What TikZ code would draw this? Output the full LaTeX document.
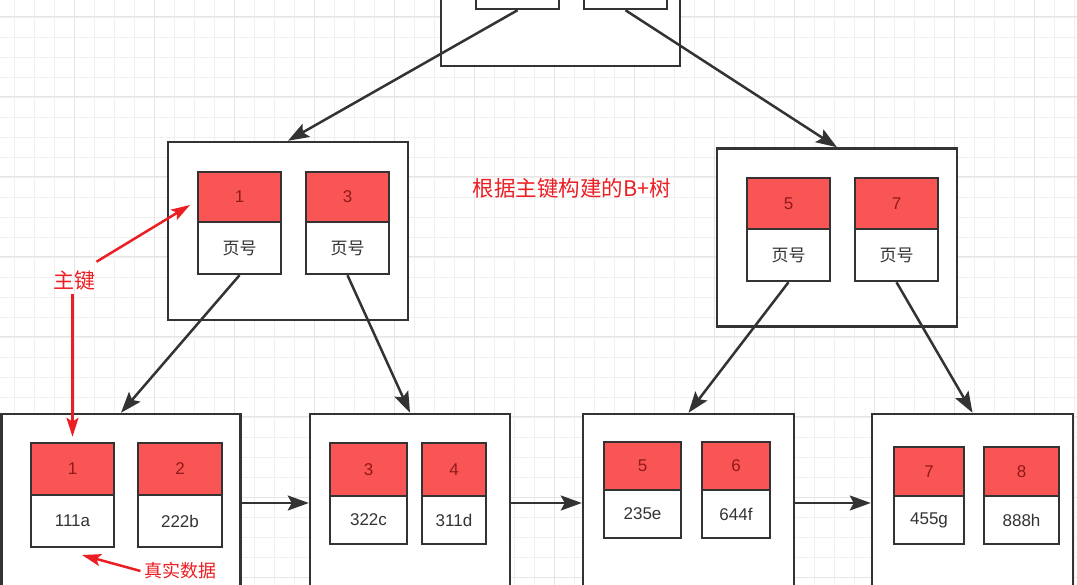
\documentclass[tikz,border=0pt]{standalone}
\usepackage{fontspec}
\setmainfont{Liberation Sans}
\newfontfamily\cjk{Noto Sans CJK SC}
\usetikzlibrary{arrows.meta, calc}
\definecolor{keyred}{RGB}{250,85,85}
\definecolor{keytext}{RGB}{145,25,25}
\definecolor{notered}{RGB}{235,30,35}
\definecolor{edge}{RGB}{51,51,51}
\definecolor{gridminor}{RGB}{240,240,240}
\definecolor{gridmajor}{RGB}{229,229,229}
\tikzset{
  page/.style={
    draw=edge, line width=2.5pt, fill=white,
    minimum width=239pt, minimum height=178pt, inner sep=0pt},
  key/.style={
    draw=edge, line width=2.5pt, fill=keyred, text=keytext,
    inner sep=0pt, minimum height=51pt, font=\fontsize{17}{19}\selectfont},
  val/.style={
    draw=edge, line width=2.5pt, fill=white, text=edge,
    inner sep=0pt, minimum height=52pt, font=\fontsize{17}{19}\selectfont},
  link/.style={
    -{Stealth[length=21pt,width=15pt,inset=4pt]}, draw=edge, line width=2.5pt},
  note/.style={
    -{Stealth[length=19pt,width=12pt,inset=4pt]}, draw=notered, line width=2.5pt},
  notetext/.style={text=notered, font=\cjk\fontsize{18}{20}\selectfont}
  }

\begin{document}
\begin{tikzpicture}[x=1pt, y=-1pt]
      \path[use as bounding box, clip] (0,0) rectangle (1077,585);
      % grid
      \foreach \x in {14,34,...,1074}
        \draw[gridminor, line width=0.8pt] (\x,0) -- (\x,585);
      \foreach \y in {17,37,...,577}
        \draw[gridminor, line width=0.8pt] (0,\y) -- (1077,\y);
      \foreach \x in {74,154,...,1034}
        \draw[gridmajor, line width=1pt] (\x,0) -- (\x,585);
      \foreach \y in {17,97,...,577}
        \draw[gridmajor, line width=1pt] (0,\y) -- (1077,\y);

      % root
      \node[page] (T) at (560.5,-23) {};
      \node[val, minimum width=83pt] (tl) at (517.5,-17) {};
      \node[val, minimum width=83pt] (tr) at (625.5,-17) {};

      % inner pages
      \node[page, minimum width=240pt] (L) at (288,231) {};
      \node[key, minimum width=83pt, minimum height=50pt] (k1) at (239.5,197) {1};
      \node[val, minimum width=83pt] (v1) at (239.5,248) {\cjk 页号};
      \node[key, minimum width=83pt, minimum height=50pt] (k3) at (347.5,197) {3};
      \node[val, minimum width=83pt] (v3) at (347.5,248) {\cjk 页号};

      \node[page, minimum width=240pt] (R) at (837,237.5) {};
      \node[key, minimum width=83pt] (k5) at (788.5,203.5) {5};
      \node[val, minimum width=83pt] (v5) at (788.5,255) {\cjk 页号};
      \node[key, minimum width=83pt] (k7) at (896.5,203.5) {7};
      \node[val, minimum width=83pt] (v7) at (896.5,255) {\cjk 页号};

      % leaf pages
      \node[page] (B1) at (121,503) {};
      \node[key, minimum width=83pt, minimum height=52pt] (a1k) at (72.5,469) {1};
      \node[val, minimum width=83pt] (a1v) at (72.5,521) {111a};
      \node[key, minimum width=84pt, minimum height=52pt] (a2k) at (180,469) {2};
      \node[val, minimum width=84pt] (a2v) at (180,521) {222b};

      \node[page, minimum width=200pt] (B2) at (410,503) {};
      \node[key, minimum width=77pt, minimum height=53pt] (b3k) at (368.5,469.5) {3};
      \node[val, minimum width=77pt, minimum height=48pt] (b3v) at (368.5,520) {322c};
      \node[key, minimum width=64pt, minimum height=53pt] (b4k) at (454,469.5) {4};
      \node[val, minimum width=64pt, minimum height=48pt] (b4v) at (454,520) {311d};

      \node[page, minimum width=211pt] (B3) at (688.5,503) {};
      \node[key, minimum width=77pt, minimum height=48pt] (c5k) at (642.5,466) {5};
      \node[val, minimum width=77pt, minimum height=48pt] (c5v) at (642.5,514) {235e};
      \node[key, minimum width=68pt, minimum height=48pt] (c6k) at (736,466) {6};
      \node[val, minimum width=68pt, minimum height=48pt] (c6v) at (736,514) {644f};

      \node[page, minimum width=201pt] (B4) at (972.5,503) {};
      \node[key, minimum width=70pt, minimum height=49pt] (d7k) at (929,471.5) {7};
      \node[val, minimum width=70pt, minimum height=48pt] (d7v) at (929,520) {455g};
      \node[key, minimum width=75pt, minimum height=49pt] (d8k) at (1021.5,471.5) {8};
      \node[val, minimum width=75pt, minimum height=48pt] (d8v) at (1021.5,520) {888h};

      % tree links
      \draw[link] (tl.south) to (L.north);
      \draw[link] (tr.south) to (R.north);
      \draw[link] (v1.south) to (B1.north);
      \draw[link] (v3.south) to (B2.north);
      \draw[link] (v5.south) to (B3.north);
      \draw[link] (v7.south) to (B4.north);
      \draw[link] (B1.east) to (B2.west);
      \draw[link] (B2.east) to (B3.west);
      \draw[link] (B3.east) to (B4.west);

      % notes
      \node[notetext, font=\cjk\fontsize{21.5}{24}\selectfont] (title) at (572,188) {根据主键构建的B+树};
      \node[notetext, font=\cjk\fontsize{21}{23}\selectfont] (pk) at (74,281) {主键};
      \coordinate (pkTip) at (190,205);
      \draw[note] ([xshift=-2pt, yshift=6pt]pk.north east) to (pkTip);
      \draw[note, shorten >=5pt] (a1k.north |- pk.south) to (a1k.north);
      \node[notetext] (raw) at (180,571) {真实数据};
      \coordinate (rawTip) at (82,555);
      \draw[note] (raw.west) to (rawTip);
    \end{tikzpicture}
\end{document}
